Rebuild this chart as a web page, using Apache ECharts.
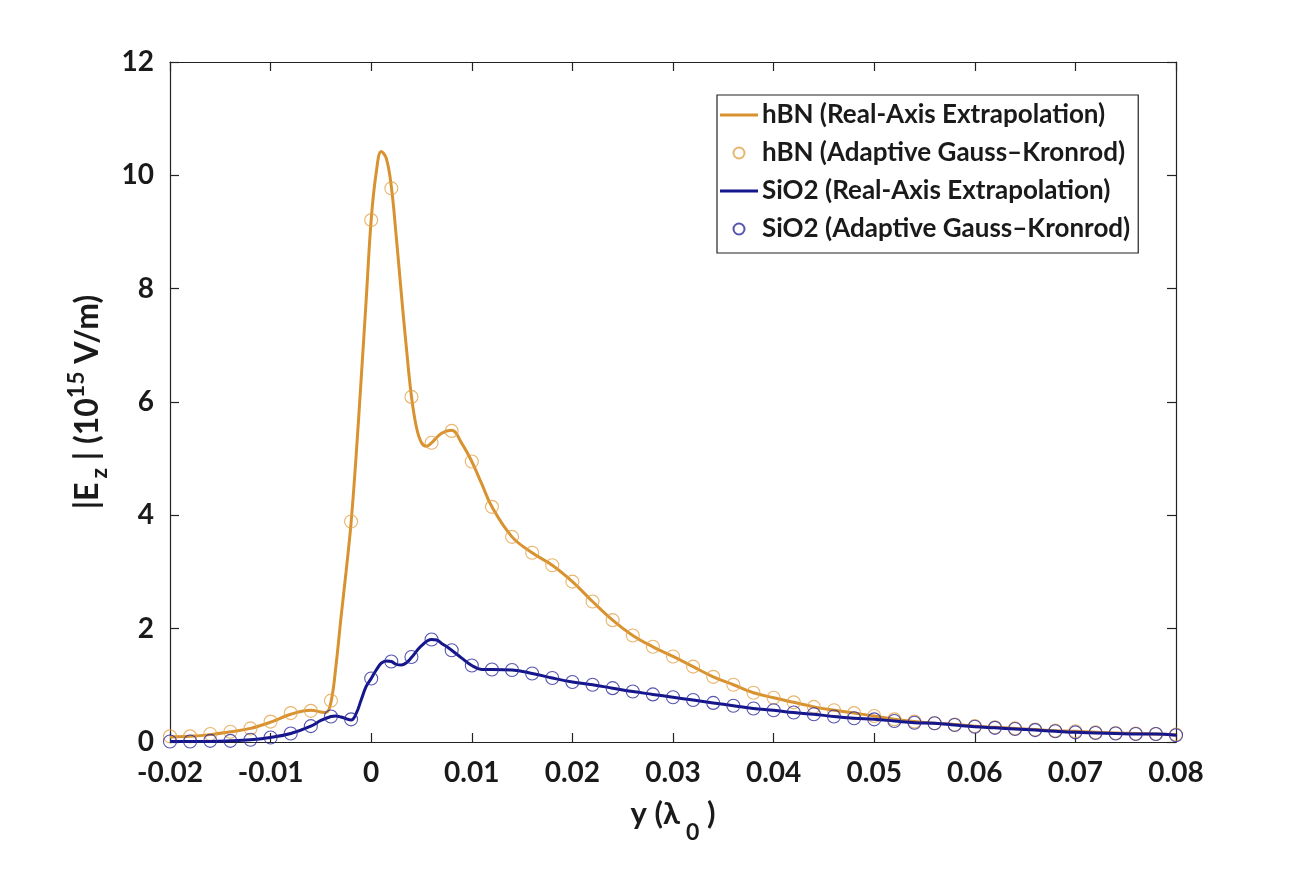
<!DOCTYPE html>
<html>
<head>
<meta charset="utf-8">
<script src="https://cdn.jsdelivr.net/npm/echarts@6/dist/echarts.min.js"></script>
<style>
html,body{margin:0;padding:0;background:#fff;}
#chart{width:1299px;height:893px;}
</style>
</head>
<body>
<div id="chart"></div>
<script>
// Marker abscissae (y in units of lambda0)
const markerX = [-0.020,-0.018,-0.016,-0.014,-0.012,-0.010,-0.008,-0.006,-0.004,-0.002,
  0.000,0.002,0.004,0.006,0.008,0.010,0.012,0.014,0.016,0.018,
  0.020,0.022,0.024,0.026,0.028,0.030,0.032,0.034,0.036,0.038,
  0.040,0.042,0.044,0.046,0.048,0.050,0.052,0.054,0.056,0.058,
  0.060,0.062,0.064,0.066,0.068,0.070,0.072,0.074,0.076,0.078,0.080];
// hBN, Adaptive Gauss-Kronrod (markers)
const hbnMarkers = [0.10,0.10,0.14,0.18,0.24,0.36,0.51,0.55,0.73,3.89,
  9.21,9.77,6.09,5.28,5.49,4.95,4.15,3.62,3.34,3.12,
  2.83,2.48,2.15,1.88,1.68,1.51,1.33,1.15,1.01,0.87,
  0.78,0.70,0.62,0.56,0.51,0.46,0.40,0.36,0.33,0.31,
  0.28,0.26,0.24,0.22,0.20,0.19,0.17,0.16,0.15,0.14,0.13];
// SiO2, Adaptive Gauss-Kronrod (markers)
const sio2Markers = [0.01,0.01,0.02,0.02,0.04,0.08,0.15,0.28,0.45,0.40,
  1.12,1.42,1.50,1.81,1.62,1.35,1.28,1.27,1.21,1.13,
  1.06,1.01,0.95,0.89,0.84,0.79,0.74,0.69,0.64,0.59,
  0.56,0.52,0.49,0.45,0.42,0.40,0.37,0.34,0.33,0.30,
  0.27,0.25,0.23,0.21,0.19,0.17,0.16,0.15,0.14,0.14,0.12];
// hBN, Real-Axis Extrapolation (continuous curve)
const hbnLineX = [-0.020,-0.018,-0.016,-0.014,-0.012,-0.010,-0.008,-0.006,-0.005,-0.0045,
  -0.004,-0.0035,-0.003,-0.0025,-0.002,-0.0015,-0.001,-0.0005,0.000,0.0005,
  0.001,0.0015,0.002,0.0025,0.003,0.0035,0.004,0.0045,0.005,0.0055,
  0.006,0.007,0.008,0.009,0.010,0.011,0.012,0.014,0.016,0.018,
  0.020,0.022,0.024,0.026,0.028,0.030,0.032,0.034,0.036,0.038,
  0.040,0.042,0.044,0.046,0.048,0.050,0.052,0.054,0.056,0.058,
  0.060,0.062,0.064,0.066,0.068,0.070,0.072,0.074,0.076,0.078,0.080];
const hbnLineY = [0.09,0.10,0.13,0.18,0.24,0.35,0.49,0.56,0.53,0.52,
  0.70,1.35,2.20,3.00,3.87,5.05,6.40,7.80,9.22,10.05,
  10.42,10.30,9.80,8.90,7.90,6.95,6.10,5.55,5.28,5.22,
  5.28,5.45,5.50,5.27,4.95,4.55,4.15,3.62,3.34,3.12,
  2.83,2.48,2.15,1.88,1.68,1.51,1.33,1.15,1.01,0.87,
  0.78,0.70,0.62,0.56,0.51,0.46,0.40,0.36,0.33,0.31,
  0.28,0.26,0.24,0.22,0.20,0.19,0.17,0.16,0.15,0.14,0.13];
// SiO2, Real-Axis Extrapolation (continuous curve)
const sio2LineX = [-0.020,-0.018,-0.016,-0.014,-0.012,-0.010,-0.008,-0.006,-0.005,-0.004,
  -0.0035,-0.003,-0.002,-0.0015,-0.001,-0.0005,0.000,0.0005,0.001,0.0015,
  0.002,0.0025,0.003,0.0035,0.004,0.005,0.006,0.0065,0.007,0.008,
  0.009,0.010,0.011,0.012,0.014,0.016,0.018,
  0.020,0.022,0.024,0.026,0.028,0.030,0.032,0.034,0.036,0.038,
  0.040,0.042,0.044,0.046,0.048,0.050,0.052,0.054,0.056,0.058,
  0.060,0.062,0.064,0.066,0.068,0.070,0.072,0.074,0.076,0.078,0.080];
const sio2LineY = [0.01,0.01,0.01,0.02,0.04,0.08,0.15,0.28,0.38,0.45,
  0.46,0.44,0.39,0.50,0.74,0.98,1.12,1.27,1.39,1.43,
  1.42,1.37,1.36,1.40,1.49,1.70,1.81,1.80,1.74,1.62,
  1.48,1.35,1.28,1.28,1.27,1.21,1.13,
  1.06,1.01,0.95,0.89,0.84,0.79,0.74,0.69,0.64,0.59,
  0.56,0.52,0.49,0.45,0.42,0.40,0.37,0.34,0.33,0.30,
  0.27,0.25,0.23,0.21,0.19,0.17,0.16,0.15,0.14,0.14,0.12];
const seriesNames = ['hBN (Real-Axis Extrapolation)','hBN (Adaptive Gauss\u2013Kronrod)',
  'SiO2 (Real-Axis Extrapolation)','SiO2 (Adaptive Gauss\u2013Kronrod)'];
const yTicks = {min:0, max:12, interval:2};
const xTicks = {min:-0.02, max:0.08, interval:0.01};

const zip = (a,b) => a.map((v,i)=>[v,b[i]]);
const FONT = 'Lato';
const TXT = '#1a1a1a';
const ORANGE = '#D8922F';
const ORANGE_M = '#E2A24A';
const NAVY = '#15158C';
const NAVY_M = '#2A2A9E';
const LINE_ICON = 'path://M0,0H40V3H0Z';

const chart = echarts.init(document.getElementById('chart'), null, {renderer:'canvas'});
const axisLine = {show:true, onZero:false, lineStyle:{color:'#222', width:1.2}};
const tick = {show:true, inside:true, length:9, lineStyle:{color:'#222', width:1.2}};
chart.setOption({
  animation:false,
  backgroundColor:'#fff',
  grid:{left:170, right:123, top:62, bottom:151, containLabel:false},
  legend:{
    orient:'vertical', left:717, top:95,
    data:[
      {name:seriesNames[0], icon:LINE_ICON},
      {name:seriesNames[1]},
      {name:seriesNames[2], icon:LINE_ICON},
      {name:seriesNames[3]}
    ],
    itemWidth:38, itemHeight:11, itemGap:10,
    padding:[6,8,10,3],
    borderColor:'#222', borderWidth:1.2, backgroundColor:'#fff',
    textStyle:{fontFamily:FONT, fontWeight:'bold', fontSize:26, color:TXT, lineHeight:28, padding:[0,0,0,-1]}
  },
  xAxis:[{
    type:'value', min:xTicks.min, max:xTicks.max, interval:xTicks.interval,
    axisLine:axisLine, axisTick:tick, splitLine:{show:false},
    axisLabel:{fontFamily:FONT, fontWeight:'bold', fontSize:28, color:TXT, margin:17,
      formatter:v=>String(Math.round(v*100)/100)},
    name:'{a|y (\u03bb}{s|0}{a| )}', nameLocation:'middle', nameGap:56,
    nameTextStyle:{rich:{
      a:{fontFamily:FONT, fontWeight:'bold', fontSize:31, color:TXT, lineHeight:46, verticalAlign:'top'},
      s:{fontFamily:FONT, fontWeight:'bold', fontSize:23, color:TXT, lineHeight:23, verticalAlign:'bottom', padding:[0,0,0,6]}
    }}
  },{
    type:'value', position:'top', min:xTicks.min, max:xTicks.max, interval:xTicks.interval,
    axisLine:axisLine, axisTick:tick, axisLabel:{show:false}, splitLine:{show:false}
  }],
  yAxis:[{
    type:'value', min:yTicks.min, max:yTicks.max, interval:yTicks.interval,
    axisLine:axisLine, axisTick:tick, splitLine:{show:false},
    axisLabel:{fontFamily:FONT, fontWeight:'bold', fontSize:28, color:TXT, margin:16},
    name:'{a||E}{s|z}{a| | (10}{p|15}{a| V/m)}', nameLocation:'middle', nameGap:58,
    nameTextStyle:{rich:{
      a:{fontFamily:FONT, fontWeight:'bold', fontSize:32, color:TXT, lineHeight:46, verticalAlign:'middle'},
      s:{fontFamily:FONT, fontWeight:'bold', fontSize:23, color:TXT, lineHeight:23, verticalAlign:'bottom', padding:[0,0,0,4]},
      p:{fontFamily:FONT, fontWeight:'bold', fontSize:23, color:TXT, lineHeight:23, verticalAlign:'top'}
    }}
  },{
    type:'value', position:'right', min:yTicks.min, max:yTicks.max, interval:yTicks.interval,
    axisLine:axisLine, axisTick:tick, axisLabel:{show:false}, splitLine:{show:false}
  }],
  series:[
    {name:seriesNames[0], type:'line', data:zip(hbnLineX,hbnLineY), smooth:0.4, symbol:'none',
      lineStyle:{color:ORANGE, width:3}, itemStyle:{color:ORANGE}, z:2},
    {name:seriesNames[1], type:'scatter', data:zip(markerX,hbnMarkers), symbol:'circle', symbolSize:13,
      itemStyle:{color:'rgba(0,0,0,0)', borderColor:ORANGE_M, borderWidth:1.1}, z:3},
    {name:seriesNames[2], type:'line', data:zip(sio2LineX,sio2LineY), smooth:0.4, symbol:'none',
      lineStyle:{color:NAVY, width:3}, itemStyle:{color:NAVY}, z:4},
    {name:seriesNames[3], type:'scatter', data:zip(markerX,sio2Markers), symbol:'circle', symbolSize:13,
      itemStyle:{color:'rgba(0,0,0,0)', borderColor:NAVY_M, borderWidth:1.1}, z:5}
  ]
});
</script>
</body>
</html>
